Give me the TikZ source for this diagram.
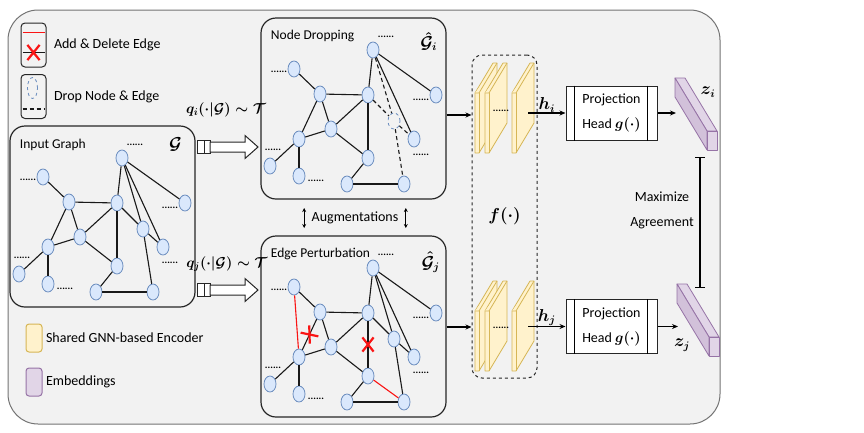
\documentclass[tikz,border=0pt]{standalone}
\usepackage{fontspec}
\setmainfont{Carlito}
\usepackage{amsmath}
\usetikzlibrary{arrows.meta, positioning, shapes.geometric, shapes.misc, calc}

\definecolor{panelGray}{RGB}{242,242,242}
\definecolor{nodeBlue}{RGB}{218,232,252}
\definecolor{nodeLine}{RGB}{108,142,191}
\definecolor{encYellow}{RGB}{255,242,204}
\definecolor{encLine}{RGB}{214,182,86}
\definecolor{embPurple}{RGB}{225,213,231}
\definecolor{embLine}{RGB}{150,115,166}
\definecolor{editRed}{RGB}{250,20,20}

% sample graph, drawn three times (px grid, y pointing down)
\newcommand{\gnodes}{1/122/158, 2/43/177, 3/69/202, 4/117/203, 5/185/203,
  6/80/237, 8/48/247, 9/163/247, 10/117/266, 11/19/274, 12/48/284,
  13/96/292, 14/153/292}
\newcommand{\gedges}{2/3, 3/4, 3/6, 1/4, 4/6, 6/8, 6/10, 8/11, 8/12,
  10/13, 13/14, 1/5, 1/9, 3/8, 4/10}
\newcommand{\gsevenedges}{1/7, 4/7, 7/9, 7/14}
\newcommand{\gdots}{135/145, 28/180, 170/208, 22/258, 170/263, 65/289}

% one encoder layer; #1 = left x, #2 = top y
\newcommand{\enclayer}[2]{%
  \draw[encslab] (#1,#2+30) -- (#1+18,#2) -- (#1+22,#2) -- (#1+22,#2+60)
    -- (#1+4,#2+90) -- (#1,#2+90) -- cycle;
  \draw[encslab] (#1,#2+30) -- (#1+4,#2+30) -- (#1+22,#2);
  \draw[encslab] (#1+4,#2+30) -- (#1+4,#2+90);
}

% embedding bar; #1,#2 = upper left corner of its end face
\newcommand{\embbar}[2]{%
  \draw[embside] (#1,#2) -- (#1-32,#2-53) -- (#1-22,#2-53) -- (#1+10,#2) -- cycle;
  \draw[embside, fill=embPurple!80!embLine] (#1,#2) -- (#1-32,#2-53)
    -- (#1-32,#2-34) -- (#1,#2+19) -- cycle;
  \draw[embside] (#1,#2) rectangle (#1+10,#2+19);
}

% sampling arrow; #1,#2 = middle of its tail
\newcommand{\samplearrow}[2]{%
  \draw[blockline] (#1,#2-6.5) rectangle (#1+7,#2+6.5);
  \draw[blockline] (#1+7,#2-6.5) rectangle (#1+13,#2+6.5);
  \draw[blockline] (#1+13,#2-5) -- (#1+48,#2-5) -- (#1+48,#2-11.5)
    -- (#1+61,#2) -- (#1+48,#2+11.5) -- (#1+48,#2+5) -- (#1+13,#2+5) -- cycle;
}

\begin{document}
\begin{tikzpicture}[
    x=1pt, y=-1pt,
    font=\fontsize{14}{25}\selectfont,
    panel/.style={draw=black!55, fill=panelGray, line width=1pt, rounded corners=30pt},
    graphbox/.style={draw=black!85, line width=1.2pt, rounded corners=15pt,
      minimum width=185pt, minimum height=181pt},
    gtitle/.style={anchor=west, font=\fontsize{13.5}{16}\selectfont},
    gmath/.style={inner sep=1pt, font=\fontsize{16}{18}\selectfont\boldmath},
    gnode/.style={ellipse, draw=nodeLine, fill=nodeBlue, line width=0.8pt,
      minimum width=12pt, minimum height=16pt, inner sep=0pt},
    dropnode/.style={gnode, fill=none, dashed},
    gedge/.style={draw=black!90, line width=1.1pt},
    dropedge/.style={gedge, dash pattern=on 4pt off 3pt},
    addedge/.style={draw=editRed, line width=1.1pt},
    delmark/.style={cross out, draw=editRed, line width=2.2pt, inner sep=0pt,
      minimum width=9pt, minimum height=12pt},
    gdots/.style={font=\fontsize{10}{10}\selectfont\bfseries, inner sep=0pt},
    legendbox/.style={draw=black!85, line width=1pt, rounded corners=4pt,
      minimum width=25pt, minimum height=44pt},
    swatch/.style={line width=1pt, rounded corners=3pt, minimum width=16pt,
      minimum height=28pt},
    blockline/.style={draw=black!85, fill=white, line width=1pt},
    encbox/.style={draw=black!85, dashed, line width=1pt, rounded corners=10pt,
      minimum width=65pt, minimum height=323pt, font=\fontsize{16}{18}\selectfont\boldmath},
    encslab/.style={draw=encLine, fill=encYellow, line width=0.8pt, line join=round},
    embside/.style={draw=embLine, fill=embPurple, line width=0.8pt, line join=round},
    proj/.style={draw=black!85, fill=white, line width=1pt, minimum width=91pt,
      minimum height=54pt, inner sep=0pt, align=center},
    arrow/.style={-{Stealth[length=6pt, width=5pt]}, line width=1.1pt},
    dblarrow/.style={{Stealth[length=4pt, width=4pt]}-{Stealth[length=4pt, width=4pt]}, line width=1pt},
    agreeline/.style={{Bar[width=10pt]}-{Bar[width=10pt]}, line width=1.1pt},
  ]
  \useasboundingbox (0,0) rectangle (864,432);
  \draw[panel] (8,10) rectangle (720,424);

  % legend
  \node[legendbox] (lgEdit) at (33.5,45) {};
  \draw[addedge] ($(lgEdit.north west)+(2,10)$) -- ($(lgEdit.north east)+(-2,10)$);
  \draw[gedge] ($(lgEdit.south west)+(2,-15)$) coordinate (lgEditA)
    -- ($(lgEdit.south east)+(-2,-15)$) coordinate (lgEditB);
  \node[delmark, minimum width=10pt, minimum height=13pt] (lgCut)
    at ($(lgEditA)!0.5!(lgEditB)$) {};
  \node[right=4pt of lgEdit] (lgEditTxt) {Add \& Delete Edge};

  \node[legendbox] (lgDrop) at (33.5,96.5) {};
  \node[dropnode, minimum width=10pt, minimum height=21pt] (lgDropNode)
    at ($(lgDrop.north)+(-1,14)$) {};
  \draw[dropedge] ($(lgDrop.south west)+(2,-10)$) -- ($(lgDrop.south east)+(-2,-10)$);
  \node[right=4pt of lgDrop] (lgDropTxt) {Drop Node \& Edge};

  \node[swatch, draw=encLine, fill=encYellow] (lgEnc) at (34,338) {};
  \node[right=0pt of lgEnc] (lgEncTxt) {Shared GNN-based Encoder};
  \node[swatch, draw=embLine, fill=embPurple] (lgEmb) at (34,382) {};
  \node[right=0pt of lgEmb] (lgEmbTxt) {Embeddings};

  % input graph
  \begin{scope}[name prefix=in-]
    \node[graphbox] (box) at (102.5,216.5) {};
    \node[gtitle, xshift=7pt, yshift=-19pt] (title) at (box.north west) {Input Graph};
    \node[gmath, xshift=-20pt, yshift=-19pt] (sym) at (box.north east) {$\mathcal{G}$};
    \foreach \n/\x/\y in \gnodes { \node[gnode] (v\n) at (\x,\y) {}; }
    \node[gnode] (v7) at (143,229) {};
    \foreach \a/\b in \gedges { \draw[gedge] (v\a) -- (v\b); }
    \foreach \a/\b in \gsevenedges { \draw[gedge] (v\a) -- (v\b); }
    \foreach \x/\y [count=\k] in \gdots { \node[gdots] (d\k) at (\x,\y) {......}; }
  \end{scope}

  % node dropping
  \begin{scope}[shift={(251,-108)}, name prefix=dr-]
    \node[graphbox] (box) at (102.5,216.5) {};
    \node[gtitle, xshift=7pt, yshift=-19pt] (title) at (box.north west) {Node Dropping};
    \node[gmath, xshift=-18pt, yshift=-24pt] (sym) at (box.north east) {$\hat{\mathcal{G}}_i$};
    \foreach \n/\x/\y in \gnodes { \node[gnode] (v\n) at (\x,\y) {}; }
    \node[dropnode] (v7) at (143,229) {};
    \foreach \a/\b in \gedges { \draw[gedge] (v\a) -- (v\b); }
    \foreach \a/\b in \gsevenedges { \draw[dropedge] (v\a) -- (v\b); }
    \foreach \x/\y [count=\k] in \gdots { \node[gdots] (d\k) at (\x,\y) {......}; }
  \end{scope}

  % edge perturbation
  \begin{scope}[shift={(251,110)}, name prefix=ep-]
    \node[graphbox] (box) at (102.5,216.5) {};
    \node[gtitle, xshift=7pt, yshift=-19pt] (title) at (box.north west) {Edge Perturbation};
    \node[gmath, xshift=-16pt, yshift=-27pt] (sym) at (box.north east) {$\hat{\mathcal{G}}_j$};
    \foreach \n/\x/\y in \gnodes { \node[gnode] (v\n) at (\x,\y) {}; }
    \node[gnode] (v7) at (143,229) {};
    \foreach \a/\b in \gedges { \draw[gedge] (v\a) -- (v\b); }
    \foreach \a/\b in \gsevenedges { \draw[gedge] (v\a) -- (v\b); }
    \foreach \a/\b in {2/8, 10/14} { \draw[addedge] (v\a) -- (v\b); }
    \path (v3) -- (v8) node[delmark, midway, rotate=40] (cutA) {};
    \path (v4) -- (v10) node[delmark, midway] (cutB) {};
    \foreach \x/\y [count=\k] in \gdots { \node[gdots] (d\k) at (\x,\y) {......}; }
  \end{scope}

  % sampling of the augmentations
  \samplearrow{197}{147}
  \node[gmath, font=\fontsize{14}{16}\selectfont\boldmath] (qi) at (226,110)
    {$q_i(\cdot|\mathcal{G})\sim\mathcal{T}$};
  \samplearrow{197}{290}
  \node[gmath, font=\fontsize{14}{16}\selectfont\boldmath] (qj) at (227,264)
    {$q_j(\cdot|\mathcal{G})\sim\mathcal{T}$};

  \node (aug) at (355,218) {Augmentations};
  \draw[dblarrow] ($(aug.west)+(-4,-10)$) -- ($(aug.west)+(-4,10)$);
  \draw[dblarrow] ($(aug.east)+(4,-10)$) -- ($(aug.east)+(4,10)$);

  % shared encoder
  \node[encbox] (enc) at (504.5,216.5) {$f(\cdot)$};
  \enclayer{475}{63} \enclayer{485}{63} \enclayer{512}{63}
  \node[gdots] (encDotsI) at (501,111) {......};
  \enclayer{475}{281} \enclayer{485}{281} \enclayer{512}{281}
  \node[gdots] (encDotsJ) at (501,328) {......};

  \coordinate (encInI) at (471,115);
  \coordinate (encInJ) at (471,327);
  \draw[arrow] (dr-box.east |- encInI) -- (enc.west |- encInI);
  \draw[arrow] (ep-box.east |- encInJ) -- (enc.west |- encInJ);

  % projection heads
  \node[proj] (projI) at (611.5,113) {Projection\\Head {\boldmath$g(\cdot)$}};
  \node[proj] (projJ) at (611.5,326.5) {Projection\\Head {\boldmath$g(\cdot)$}};
  \foreach \p in {projI, projJ} {
    \draw[line width=1pt] ([xshift=9pt]\p.north west) -- ([xshift=9pt]\p.south west);
    \draw[line width=1pt] ([xshift=-10pt]\p.north east) -- ([xshift=-10pt]\p.south east);
  }
  \coordinate (hOutI) at (528,113);
  \coordinate (hOutJ) at (528,326.5);
  \draw[arrow] (hOutI) -- (projI.west) node[gmath, midway, above=-1pt] (hi) {$h_i$};
  \draw[arrow] (hOutJ) -- (projJ.west) node[gmath, midway, above=-1pt] (hj) {$h_j$};

  % embeddings
  \embbar{707}{131}
  \embbar{709}{337}
  \coordinate (zInI) at (676,113);
  \coordinate (zInJ) at (678,326.5);
  \draw[arrow] (projI.east) -- (zInI);
  \draw[arrow] (projJ.east) -- (zInJ);
  \node[gmath] (zi) at (708,92) {$z_i$};
  \node[gmath] (zj) at (682,345) {$z_j$};

  % agreement
  \node[align=center] (agree) at (662,210) {Maximize\\Agreement};
  \coordinate (agTop) at (700,157);
  \coordinate (agBot) at (700,288);
  \draw[agreeline] (agTop) -- (agBot);
\end{tikzpicture}
\end{document}
